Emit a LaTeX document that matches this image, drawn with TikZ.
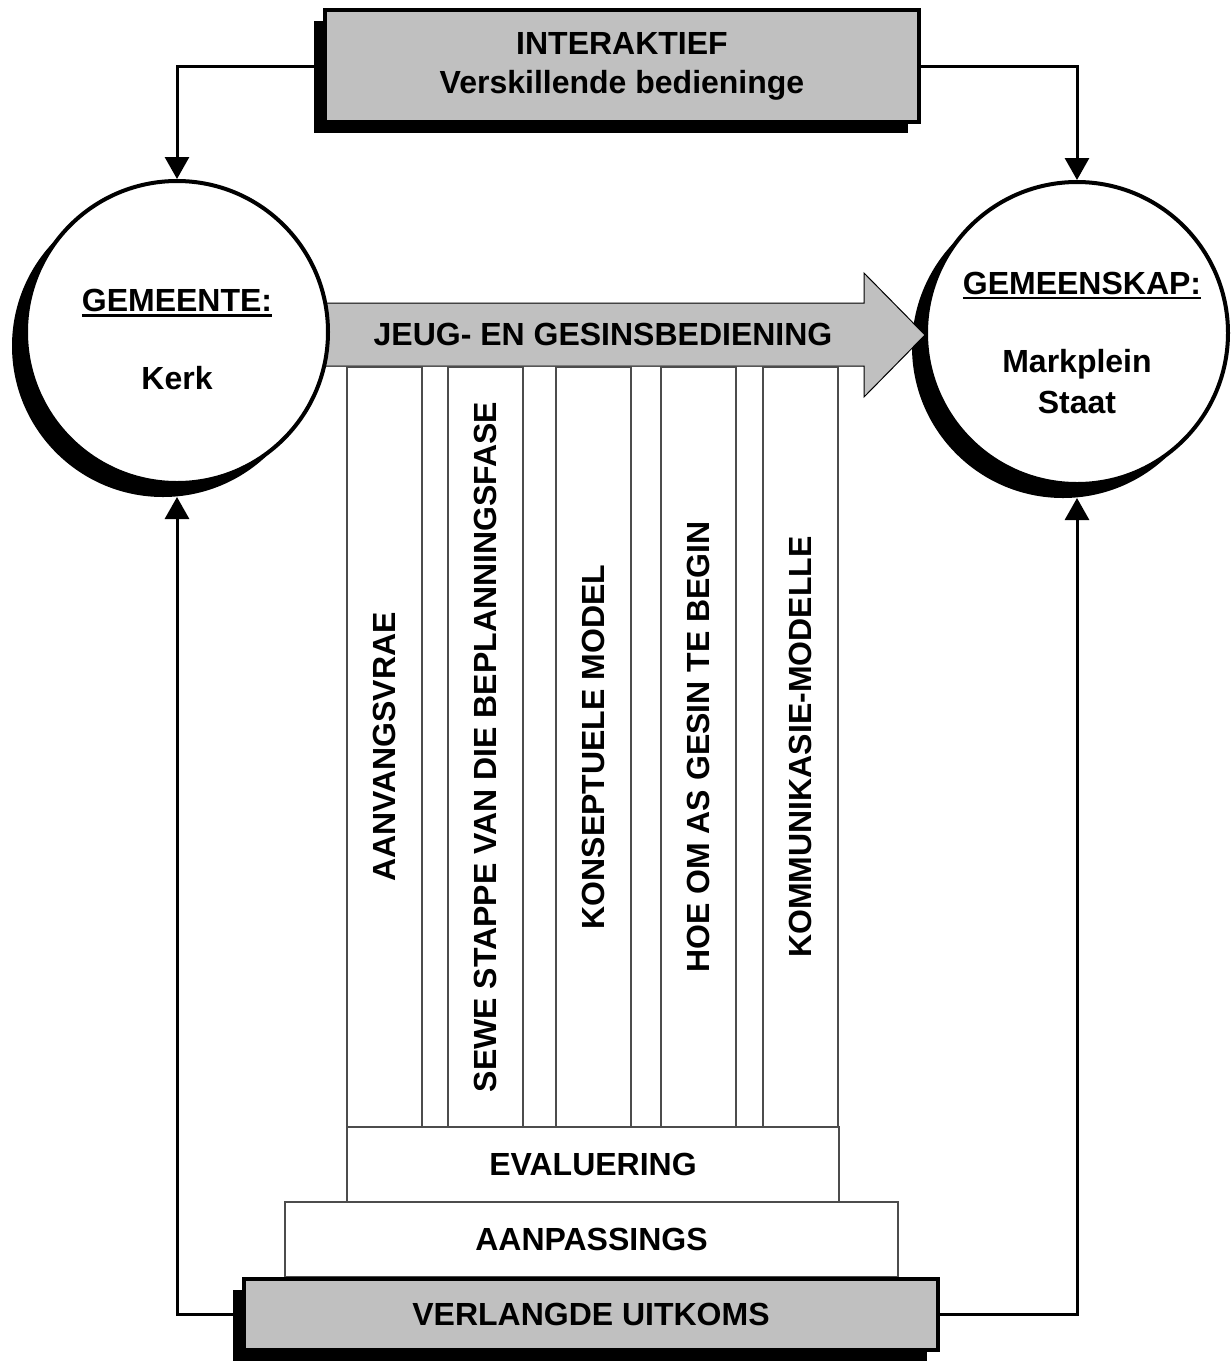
\documentclass[tikz,border=0pt]{standalone}
\usepackage{fontspec}
\setmainfont{Liberation Sans}
\usetikzlibrary{shadows,arrows.meta}
\definecolor{boxgray}{RGB}{192,192,192}
\newcommand{\ulabel}[1]{\setbox0\hbox{#1}\rlap{\rule[-5pt]{\wd0}{2.5pt}}\box0}

\begin{document}
\begin{tikzpicture}[x=1pt, y=-1pt,
      txt/.style={font=\bfseries\fontsize{32}{39}\selectfont, align=center},
      graybox/.style={txt, rectangle, draw, line width=4pt, fill=boxgray,
                      drop shadow={shadow xshift=-11pt, shadow yshift=-11pt, fill=black, opacity=1}},
      ring/.style={txt, font=\bfseries\fontsize{32}{41}\selectfont, circle, draw, line width=4pt,
                   fill=white, minimum size=302pt, inner sep=0pt,
                   drop shadow={shadow xshift=-14pt, shadow yshift=-14pt, fill=black, opacity=1}},
      pillar/.style={txt, rectangle, draw=black!70, line width=1.3pt, fill=white,
                     minimum width=760pt, minimum height=75pt, rotate=90},
      layer/.style={txt, rectangle, draw=black!70, line width=1.3pt, fill=white, minimum height=75pt},
      conn/.style={line width=3pt, -{Triangle[width=24pt,length=22pt]}}]
    \useasboundingbox (0,0) rectangle (1231,1361);
    \node[graybox, minimum width=594pt, minimum height=112pt] (top) at (622,66)
      {INTERAKTIEF\\Verskillende bedieninge};
    \node[ring] (gemeenskap) at (1077,333)
      {\rule{0pt}{42pt}\hspace*{10pt}\ulabel{GEMEENSKAP:}\\[37pt]Markplein\\Staat};
    \draw[fill=boxgray, line width=1pt] (300,303) -- (864,303) -- (864,273) -- (925,335)
      -- (864,397) -- (864,366) -- (300,366) -- cycle;
    \node[txt] (jeug) at (603,334) {JEUG- EN GESINSBEDIENING};
    \node[ring] (kerk) at (177,332) {\rule{0pt}{38pt}\ulabel{GEMEENTE:}\\[37pt]Kerk};
    \foreach \x/\t [count=\i] in {384.5/AANVANGSVRAE, 485.5/SEWE STAPPE VAN DIE BEPLANNINGSFASE,
        593.5/KONSEPTUELE MODEL, 698.5/HOE OM AS GESIN TE BEGIN, 800.5/KOMMUNIKASIE-MODELLE} {
      \node[pillar] (p\i) at (\x,747) {\t};
    }
    \node[layer, minimum width=492pt] (eval) at (593,1164.5) {EVALUERING};
    \node[layer, minimum width=613pt] (aanpas) at (591.5,1239.5) {AANPASSINGS};
    \node[graybox, minimum width=694pt, minimum height=71pt] (uitkoms) at (591,1314.5)
      {VERLANGDE UITKOMS};
    \draw[conn] (top.west) -| (kerk.north);
    \draw[conn] (top.east) -| (gemeenskap.north);
    \draw[conn, shorten >=12pt] (uitkoms.west) -| (kerk.south);
    \draw[conn, shorten >=12pt] (uitkoms.east) -| (gemeenskap.south);
  \end{tikzpicture}
\end{document}
